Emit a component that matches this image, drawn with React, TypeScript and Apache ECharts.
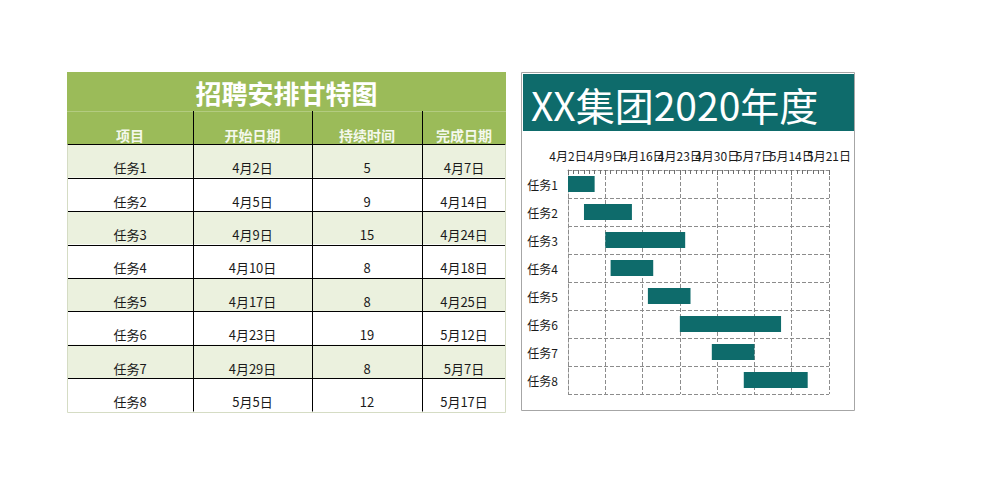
import React, { useEffect, useRef } from "react";
import * as echarts from "echarts";

// ---- data ----
const tableTitle = "招聘安排甘特图";
const chartTitle = "XX集团2020年度";
const headers = ["项目", "开始日期", "持续时间", "完成日期"];
const tasks = ["任务1", "任务2", "任务3", "任务4", "任务5", "任务6", "任务7", "任务8"];
const startDates = ["2020-04-02", "2020-04-05", "2020-04-09", "2020-04-10", "2020-04-17", "2020-04-23", "2020-04-29", "2020-05-05"];
const startLabels = ["4月2日", "4月5日", "4月9日", "4月10日", "4月17日", "4月23日", "4月29日", "5月5日"];
const durations = [5, 9, 15, 8, 8, 19, 8, 12];
const endLabels = ["4月7日", "4月14日", "4月24日", "4月18日", "4月25日", "5月12日", "5月7日", "5月17日"];
const axisOrigin = "2020-04-02";
const tickLabels = ["4月2日", "4月9日", "4月16日", "4月23日", "4月30日", "5月7日", "5月14日", "5月21日"];
const tickStep = 7;

const DAY = 86400000;
const dayOffset = (d: string) => Math.round((Date.parse(d) - Date.parse(axisOrigin)) / DAY);

const FONT = "'Noto Sans CJK SC', 'Microsoft YaHei', sans-serif";
const GREEN = "#9BBB59";
const LIGHT = "#EBF1DE";
const TEAL = "#0E6B6B";

function buildTable(): any[] {
  const x0 = 67, x1 = 506;
  const colX = [67, 193, 312, 422, 506];
  const titleTop = 72, headTop = 111, bodyTop = 144.3, rowH = 33.4;
  const bottom = bodyTop + rowH * tasks.length;
  const els: any[] = [];
  els.push({ type: "rect", shape: { x: x0, y: titleTop, width: x1 - x0, height: headTop - titleTop }, style: { fill: GREEN } });
  els.push({ type: "rect", shape: { x: x0, y: headTop, width: x1 - x0, height: bodyTop - headTop }, style: { fill: GREEN } });
  els.push({ type: "line", shape: { x1: x0, y1: headTop + 0.5, x2: x1, y2: headTop + 0.5 }, style: { stroke: "#B3CB80", lineWidth: 1 } });
  els.push({
    type: "text", x: (x0 + x1) / 2, y: (titleTop + headTop) / 2 + 1,
    style: { text: tableTitle, fill: "#FFFFFF", font: `bold 26px ${FONT}`, align: "center", verticalAlign: "middle" },
  });
  headers.forEach((h, c) => {
    els.push({
      type: "text", x: (colX[c] + colX[c + 1]) / 2, y: bodyTop - 9,
      style: { text: h, fill: "#F4F8EC", font: `bold 14px ${FONT}`, align: "center", verticalAlign: "middle" },
    });
  });
  tasks.forEach((t, r) => {
    const y = bodyTop + r * rowH;
    els.push({ type: "rect", shape: { x: x0, y, width: x1 - x0, height: rowH }, style: { fill: r % 2 === 0 ? LIGHT : "#FFFFFF" } });
    const cells = [t, startLabels[r], String(durations[r]), endLabels[r]];
    cells.forEach((v, c) => {
      els.push({
        type: "text", x: (colX[c] + colX[c + 1]) / 2, y: y + rowH - 10,
        style: { text: v, fill: "#1A1A1A", font: `13px ${FONT}`, align: "center", verticalAlign: "middle" },
      });
    });
  });
  for (let r = 0; r < tasks.length; r++) {
    const y = Math.round(bodyTop + r * rowH) + 0.5;
    els.push({ type: "line", shape: { x1: x0, y1: y, x2: x1, y2: y }, style: { stroke: "#000000", lineWidth: 1 } });
  }
  [1, 2, 3].forEach((c) => {
    const x = colX[c] + 0.5;
    els.push({ type: "line", shape: { x1: x, y1: headTop, x2: x, y2: bottom }, style: { stroke: "#000000", lineWidth: 1 } });
  });
  const b = Math.round(bottom) + 0.5;
  els.push({
    type: "polyline",
    shape: { points: [[x0 + 0.5, bodyTop], [x0 + 0.5, b], [x1 - 0.5, b], [x1 - 0.5, bodyTop]] },
    style: { stroke: "#D5DCC4", lineWidth: 1, fill: null },
  });
  return els;
}

function buildChartFrame(): any[] {
  return [
    { type: "rect", shape: { x: 521.5, y: 72.5, width: 333, height: 338 }, style: { fill: "#FFFFFF", stroke: "#A6A6A6", lineWidth: 1 }, z: -10 },
    { type: "rect", shape: { x: 523, y: 74, width: 331, height: 57 }, style: { fill: TEAL }, z: -5 },
    {
      type: "text", x: 531, y: 104,
      style: { text: chartTitle, fill: "#FFFFFF", font: `normal 39px ${FONT}`, align: "left", verticalAlign: "middle" },
    },
  ];
}

export default function App() {
  const ref = useRef<HTMLDivElement>(null);
  useEffect(() => {
    if (!ref.current) return;
    const chart = echarts.init(ref.current, null, { renderer: "svg" });
    const starts = startDates.map(dayOffset);
    const gridColor = "#8C8C8C";
    const baseGraphics = [...buildChartFrame(), ...buildTable()];
    chart.setOption({
      animation: false,
      backgroundColor: "#FFFFFF",
      textStyle: { fontFamily: FONT },
      graphic: { elements: baseGraphics },
      grid: { left: 568, top: 170, width: 261, height: 224, containLabel: false },
      xAxis: {
        type: "value",
        position: "top",
        min: 0,
        max: tickStep * (tickLabels.length - 1),
        interval: tickStep,
        axisLine: { show: true, lineStyle: { color: gridColor, type: "dashed" } },
        axisTick: { show: true, inside: true, length: 5, lineStyle: { color: "#6E6E6E" } },
        minorTick: { show: true, splitNumber: 7, length: 4, lineStyle: { color: "#6E6E6E" } },
        splitLine: { show: true, lineStyle: { color: gridColor, type: "dashed" } },
        axisLabel: { show: false },
      },
      yAxis: {
        type: "category",
        inverse: true,
        data: tasks,
        axisLine: { show: true, lineStyle: { color: gridColor, type: "dashed" } },
        axisTick: { show: false },
        splitLine: { show: true, lineStyle: { color: gridColor, type: "dashed" } },
        axisLabel: { margin: 10, color: "#1A1A1A", fontSize: 12, fontFamily: FONT },
      },
      series: [
        {
          type: "bar",
          stack: "g",
          data: starts,
          barWidth: 16,
          itemStyle: { color: "transparent" },
          silent: true,
        },
        {
          type: "bar",
          stack: "g",
          data: durations,
          barWidth: 16,
          itemStyle: { color: TEAL },
        },
      ],
    });
    // x-axis tick labels placed through the axis scale (ECharts would hide overlapping ones)
    const axisY = chart.convertToPixel({ yAxisIndex: 0 }, tasks[0]) as number;
    const labelEls = tickLabels.map((t, i) => {
      const px = chart.convertToPixel({ xAxisIndex: 0 }, i * tickStep) as number;
      return {
        type: "text",
        x: px,
        y: 170 - 15,
        style: { text: t, fill: "#1A1A1A", font: `12px ${FONT}`, align: "center", verticalAlign: "middle" },
        z: 10,
      };
    });
    void axisY;
    chart.setOption({ graphic: { elements: [...baseGraphics, ...labelEls] } });
    return () => chart.dispose();
  }, []);
  return <div ref={ref} style={{ position: "absolute", left: 0, top: 0, width: 990, height: 502 }} />;
}
